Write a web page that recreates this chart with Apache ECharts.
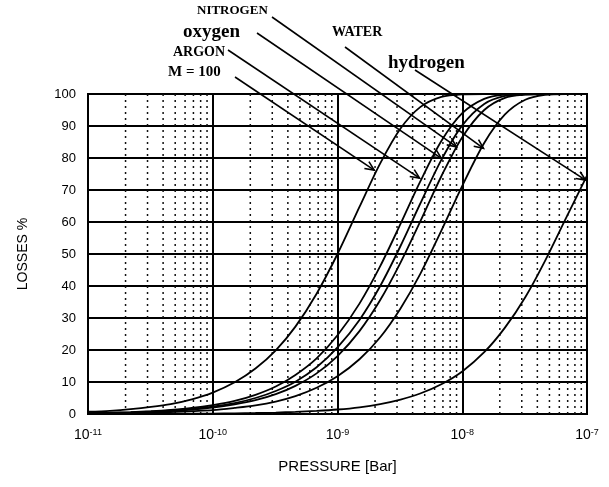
<!DOCTYPE html>
<html>
<head>
<meta charset="utf-8">
<script src="https://cdn.jsdelivr.net/npm/echarts@6/dist/echarts.min.js"></script>
<style>
  html, body { margin: 0; padding: 0; background: #fff; }
  #main { width: 609px; height: 487px; }
</style>
</head>
<body>
<div id="main"></div>
<script>
// 数据 - 压力 (Bar) 与各气体的损失 %
var pressure = [
  1e-11, 1.5e-11, 2.2e-11, 3.2e-11, 4.6e-11, 6.8e-11,
  1e-10, 1.5e-10, 2.2e-10, 3.2e-10, 4.6e-10, 6.8e-10,
  1e-9, 1.5e-9, 2.2e-9, 3.2e-9, 4.6e-9, 6.8e-9,
  1e-8, 1.5e-8, 2.2e-8, 3.2e-8, 4.6e-8, 6.8e-8,
  1e-7
];
var m100 = [0.7, 1.0, 1.5, 2.2, 3.1, 4.6, 6.7, 9.9, 14.2, 19.9, 27.3, 37.6, 50.0, 64.7, 78.3, 89.2, 95.9, 99.1, 99.9, 100, 100, 100, 100, 100, 100];
var argon = [0.3, 0.4, 0.6, 0.9, 1.3, 1.9, 2.8, 4.1, 6.0, 8.6, 12.2, 17.4, 24.6, 34.5, 46.2, 59.4, 72.6, 85.3, 94.0, 98.5, 99.8, 100, 100, 100, 100];
var oxygen = [0.2, 0.35, 0.5, 0.7, 1.1, 1.6, 2.3, 3.4, 5.0, 7.2, 10.1, 14.6, 20.8, 29.4, 40.0, 52.5, 65.7, 79.4, 90.2, 96.9, 99.4, 99.9, 100, 100, 100];
var nitrogen = [0.2, 0.3, 0.4, 0.6, 0.9, 1.4, 2.0, 3.0, 4.3, 6.2, 8.8, 12.7, 18.1, 25.9, 35.6, 47.3, 60.1, 74.3, 86.5, 95.0, 98.8, 99.8, 100, 100, 100];
var water = [0.1, 0.2, 0.3, 0.4, 0.6, 0.9, 1.2, 1.9, 2.7, 3.9, 5.6, 8.2, 11.8, 17.1, 24.0, 33.0, 43.7, 57.3, 71.3, 84.7, 93.6, 98.2, 99.7, 100, 100];
var hydrogen = [0, 0, 0, 0.05, 0.07, 0.1, 0.14, 0.21, 0.31, 0.46, 0.66, 0.97, 1.4, 2.1, 3.1, 4.5, 6.4, 9.3, 13.3, 19.3, 27.0, 36.5, 47.8, 61.3, 74.5];

// 标注：名字 + 箭头指向的点
var noteNames = ['M = 100', 'ARGON', 'oxygen', 'NITROGEN', 'WATER', 'hydrogen'];
var notePressure = [1.97e-9, 4.55e-9, 6.81e-9, 9.0e-9, 1.48e-8, 9.75e-8];
var noteLoss = [76.2, 73.7, 79.9, 83.5, 83.0, 73.1];

// 标注文字的位置 (像素)
var noteLayout = [
  { x: 168, y: 72, size: 15, from: [235, 77] },
  { x: 173, y: 52, size: 14, from: [228, 50] },
  { x: 183, y: 32, size: 19, from: [257, 33] },
  { x: 197, y: 11, size: 13, from: [272, 17] },
  { x: 332, y: 32, size: 14, from: [345, 47] },
  { x: 388, y: 63, size: 19, from: [415, 70] }
];

var SANS = '"Liberation Sans", Arial, sans-serif';
var SERIF = '"Liberation Serif", "Times New Roman", serif';

(function () {
  var myChart = echarts.init(document.getElementById('main'));

  function pairs(ys) {
    return pressure.map(function (p, i) { return [p, ys[i]]; });
  }

  // 次要的点状竖线 2..9 每个十进位
  var minorTicks = [];
  for (var e = -11; e < -7; e++) {
    for (var k = 2; k <= 9; k++) {
      minorTicks.push([k * Math.pow(10, e)]);
    }
  }

  function curve(name, ys) {
    return {
      name: name,
      type: 'line',
      data: pairs(ys),
      smooth: 0.3,
      showSymbol: false,
      symbol: 'none',
      lineStyle: { color: '#000', width: 1.8 },
      z: 5
    };
  }

  var series = [
    {
      name: 'minor',
      type: 'custom',
      silent: true,
      z: 1,
      data: minorTicks,
      encode: { x: 0 },
      renderItem: function (params, api) {
        var top = api.coord([api.value(0), 100]);
        var bottom = api.coord([api.value(0), 0]);
        return {
          type: 'line',
          shape: { x1: top[0], y1: top[1], x2: bottom[0], y2: bottom[1] },
          style: { stroke: '#111', lineWidth: 1.5, lineDash: [2, 4] }
        };
      }
    },
    curve('M = 100', m100),
    curve('ARGON', argon),
    curve('oxygen', oxygen),
    curve('NITROGEN', nitrogen),
    curve('WATER', water),
    curve('hydrogen', hydrogen)
  ];

  var option = {
    animation: false,
    backgroundColor: '#fff',
    grid: {
      left: 88,
      right: 22,
      top: 94,
      bottom: 73,
      show: true,
      borderColor: '#000',
      borderWidth: 2,
      backgroundColor: 'transparent'
    },
    xAxis: {
      type: 'log',
      logBase: 10,
      min: 1e-11,
      max: 1e-7,
      name: 'PRESSURE [Bar]',
      nameLocation: 'middle',
      nameGap: 45,
      nameTextStyle: { color: '#000', fontSize: 15, fontFamily: SANS },
      axisLine: { show: false },
      axisTick: { show: false },
      splitLine: { show: true, lineStyle: { color: '#000', width: 2 } },
      axisLabel: {
        margin: 14,
        color: '#000',
        formatter: function (v) {
          var ex = Math.round(Math.log(v) / Math.LN10);
          return '{b|10}{s|' + ex + '}';
        },
        rich: {
          b: { fontSize: 14, lineHeight: 14, fontFamily: SANS, color: '#000', verticalAlign: 'bottom' },
          s: { fontSize: 9, lineHeight: 8, fontFamily: SANS, color: '#000', verticalAlign: 'top' }
        }
      }
    },
    yAxis: {
      type: 'value',
      min: 0,
      max: 100,
      interval: 10,
      name: 'LOSSES %',
      nameLocation: 'middle',
      nameGap: 58,
      nameRotate: 90,
      nameTextStyle: { color: '#000', fontSize: 14, fontFamily: SANS },
      axisLine: { show: false },
      axisTick: { show: false },
      splitLine: { show: true, lineStyle: { color: '#000', width: 2 } },
      axisLabel: { color: '#000', fontSize: 13, fontFamily: SANS, margin: 12 }
    },
    series: series
  };
  myChart.setOption(option);

  // 箭头和标注文字
  var graphics = [];
  var headLen = 10, headAng = 0.42;
  noteNames.forEach(function (name, i) {
    var lay = noteLayout[i];
    var tip = myChart.convertToPixel({ gridIndex: 0 }, [notePressure[i], noteLoss[i]]);
    var dx = tip[0] - lay.from[0], dy = tip[1] - lay.from[1];
    var len = Math.sqrt(dx * dx + dy * dy);
    var ux = dx / len, uy = dy / len;
    function wing(a) {
      var c = Math.cos(a), s = Math.sin(a);
      var rx = ux * c - uy * s, ry = ux * s + uy * c;
      return [tip[0] - headLen * rx, tip[1] - headLen * ry];
    }
    graphics.push({
      type: 'line',
      shape: { x1: lay.from[0], y1: lay.from[1], x2: tip[0], y2: tip[1] },
      style: { stroke: '#000', lineWidth: 1.6 },
      z: 20
    });
    graphics.push({
      type: 'polyline',
      shape: { points: [wing(headAng), tip, wing(-headAng)] },
      style: { stroke: '#000', lineWidth: 1.6, fill: null },
      z: 20
    });
    graphics.push({
      type: 'text',
      x: lay.x,
      y: lay.y,
      style: {
        text: name,
        fill: '#000',
        font: 'bold ' + lay.size + 'px ' + SERIF,
        align: 'left',
        verticalAlign: 'middle'
      },
      z: 20
    });
  });
  myChart.setOption({ graphic: graphics });

  window.addEventListener('resize', function () {
    myChart.resize();
  });
})();
</script>
</body>
</html>
